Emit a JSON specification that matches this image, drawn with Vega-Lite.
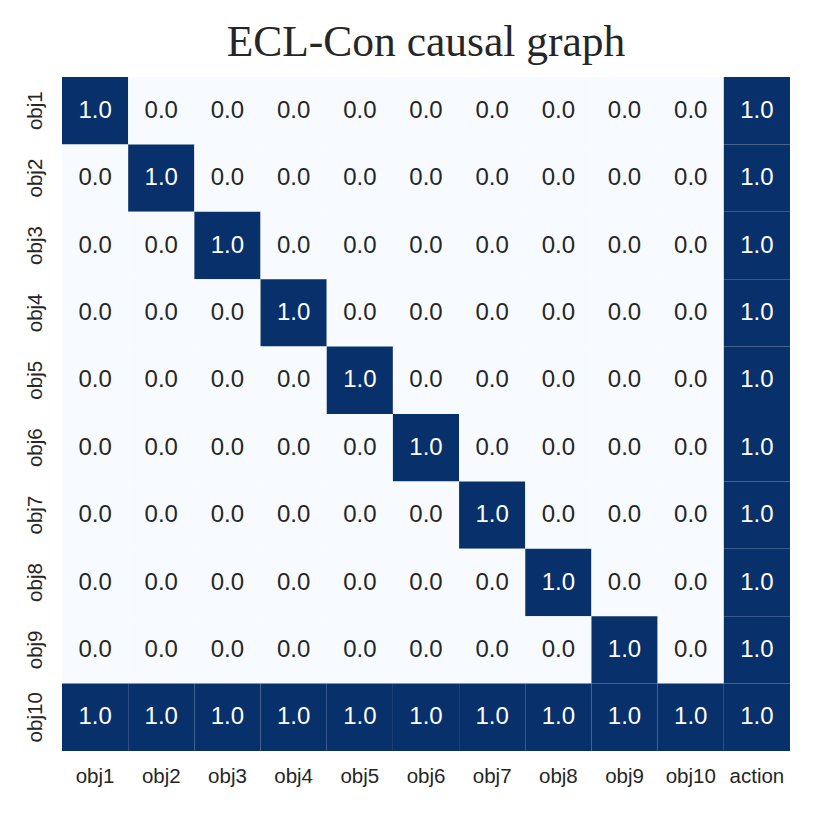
{
  "$schema": "https://vega.github.io/schema/vega-lite/v6.json",
  "autosize": {"type": "none"},
  "width": 728,
  "height": 674,
  "padding": {"left": 62, "top": 77, "right": 24, "bottom": 63},
  "background": "white",
  "title": {"text": "ECL-Con causal graph", "font": "Liberation Serif", "fontSize": 43.5, "fontWeight": "normal", "color": "#262626", "offset": 12, "anchor": "middle"},
  "config": {"view": {"stroke": null}},
  "data": {"values": [
    {"row":"obj1","col":"obj1","v":1},{"row":"obj1","col":"obj2","v":0},{"row":"obj1","col":"obj3","v":0},{"row":"obj1","col":"obj4","v":0},{"row":"obj1","col":"obj5","v":0},{"row":"obj1","col":"obj6","v":0},{"row":"obj1","col":"obj7","v":0},{"row":"obj1","col":"obj8","v":0},{"row":"obj1","col":"obj9","v":0},{"row":"obj1","col":"obj10","v":0},{"row":"obj1","col":"action","v":1},
    {"row":"obj2","col":"obj1","v":0},{"row":"obj2","col":"obj2","v":1},{"row":"obj2","col":"obj3","v":0},{"row":"obj2","col":"obj4","v":0},{"row":"obj2","col":"obj5","v":0},{"row":"obj2","col":"obj6","v":0},{"row":"obj2","col":"obj7","v":0},{"row":"obj2","col":"obj8","v":0},{"row":"obj2","col":"obj9","v":0},{"row":"obj2","col":"obj10","v":0},{"row":"obj2","col":"action","v":1},
    {"row":"obj3","col":"obj1","v":0},{"row":"obj3","col":"obj2","v":0},{"row":"obj3","col":"obj3","v":1},{"row":"obj3","col":"obj4","v":0},{"row":"obj3","col":"obj5","v":0},{"row":"obj3","col":"obj6","v":0},{"row":"obj3","col":"obj7","v":0},{"row":"obj3","col":"obj8","v":0},{"row":"obj3","col":"obj9","v":0},{"row":"obj3","col":"obj10","v":0},{"row":"obj3","col":"action","v":1},
    {"row":"obj4","col":"obj1","v":0},{"row":"obj4","col":"obj2","v":0},{"row":"obj4","col":"obj3","v":0},{"row":"obj4","col":"obj4","v":1},{"row":"obj4","col":"obj5","v":0},{"row":"obj4","col":"obj6","v":0},{"row":"obj4","col":"obj7","v":0},{"row":"obj4","col":"obj8","v":0},{"row":"obj4","col":"obj9","v":0},{"row":"obj4","col":"obj10","v":0},{"row":"obj4","col":"action","v":1},
    {"row":"obj5","col":"obj1","v":0},{"row":"obj5","col":"obj2","v":0},{"row":"obj5","col":"obj3","v":0},{"row":"obj5","col":"obj4","v":0},{"row":"obj5","col":"obj5","v":1},{"row":"obj5","col":"obj6","v":0},{"row":"obj5","col":"obj7","v":0},{"row":"obj5","col":"obj8","v":0},{"row":"obj5","col":"obj9","v":0},{"row":"obj5","col":"obj10","v":0},{"row":"obj5","col":"action","v":1},
    {"row":"obj6","col":"obj1","v":0},{"row":"obj6","col":"obj2","v":0},{"row":"obj6","col":"obj3","v":0},{"row":"obj6","col":"obj4","v":0},{"row":"obj6","col":"obj5","v":0},{"row":"obj6","col":"obj6","v":1},{"row":"obj6","col":"obj7","v":0},{"row":"obj6","col":"obj8","v":0},{"row":"obj6","col":"obj9","v":0},{"row":"obj6","col":"obj10","v":0},{"row":"obj6","col":"action","v":1},
    {"row":"obj7","col":"obj1","v":0},{"row":"obj7","col":"obj2","v":0},{"row":"obj7","col":"obj3","v":0},{"row":"obj7","col":"obj4","v":0},{"row":"obj7","col":"obj5","v":0},{"row":"obj7","col":"obj6","v":0},{"row":"obj7","col":"obj7","v":1},{"row":"obj7","col":"obj8","v":0},{"row":"obj7","col":"obj9","v":0},{"row":"obj7","col":"obj10","v":0},{"row":"obj7","col":"action","v":1},
    {"row":"obj8","col":"obj1","v":0},{"row":"obj8","col":"obj2","v":0},{"row":"obj8","col":"obj3","v":0},{"row":"obj8","col":"obj4","v":0},{"row":"obj8","col":"obj5","v":0},{"row":"obj8","col":"obj6","v":0},{"row":"obj8","col":"obj7","v":0},{"row":"obj8","col":"obj8","v":1},{"row":"obj8","col":"obj9","v":0},{"row":"obj8","col":"obj10","v":0},{"row":"obj8","col":"action","v":1},
    {"row":"obj9","col":"obj1","v":0},{"row":"obj9","col":"obj2","v":0},{"row":"obj9","col":"obj3","v":0},{"row":"obj9","col":"obj4","v":0},{"row":"obj9","col":"obj5","v":0},{"row":"obj9","col":"obj6","v":0},{"row":"obj9","col":"obj7","v":0},{"row":"obj9","col":"obj8","v":0},{"row":"obj9","col":"obj9","v":1},{"row":"obj9","col":"obj10","v":0},{"row":"obj9","col":"action","v":1},
    {"row":"obj10","col":"obj1","v":1},{"row":"obj10","col":"obj2","v":1},{"row":"obj10","col":"obj3","v":1},{"row":"obj10","col":"obj4","v":1},{"row":"obj10","col":"obj5","v":1},{"row":"obj10","col":"obj6","v":1},{"row":"obj10","col":"obj7","v":1},{"row":"obj10","col":"obj8","v":1},{"row":"obj10","col":"obj9","v":1},{"row":"obj10","col":"obj10","v":1},{"row":"obj10","col":"action","v":1}
  ]},
  "encoding": {
    "x": {"field": "col", "type": "nominal", "sort": ["obj1","obj2","obj3","obj4","obj5","obj6","obj7","obj8","obj9","obj10","action"], "title": null,
      "scale": {"paddingInner": 0, "paddingOuter": 0},
      "axis": {"orient": "bottom", "ticks": false, "domain": false, "labelAngle": 0, "labelFont": "Liberation Sans", "labelFontSize": 20.5, "labelColor": "#262626", "labelPadding": 15}},
    "y": {"field": "row", "type": "nominal", "sort": ["obj1","obj2","obj3","obj4","obj5","obj6","obj7","obj8","obj9","obj10"], "title": null,
      "scale": {"paddingInner": 0, "paddingOuter": 0},
      "axis": {"ticks": false, "domain": false, "labelAngle": -90, "labelAlign": "center", "labelBaseline": "bottom", "labelFont": "Liberation Sans", "labelFontSize": 20.5, "labelColor": "#262626", "labelPadding": 17}}
  },
  "layer": [
    {"mark": {"type": "rect", "strokeWidth": 0},
     "encoding": {"color": {"field": "v", "type": "quantitative", "scale": {"domain": [0, 1], "range": ["#f7fbff", "#08306b"]}, "legend": null}}},
    {"mark": {"type": "text", "font": "Liberation Sans", "fontSize": 24},
     "encoding": {
       "text": {"field": "v", "type": "quantitative", "format": ".1f"},
       "color": {"condition": {"test": "datum.v > 0.5", "value": "#ffffff"}, "value": "#262626"}
     }}
  ]
}
